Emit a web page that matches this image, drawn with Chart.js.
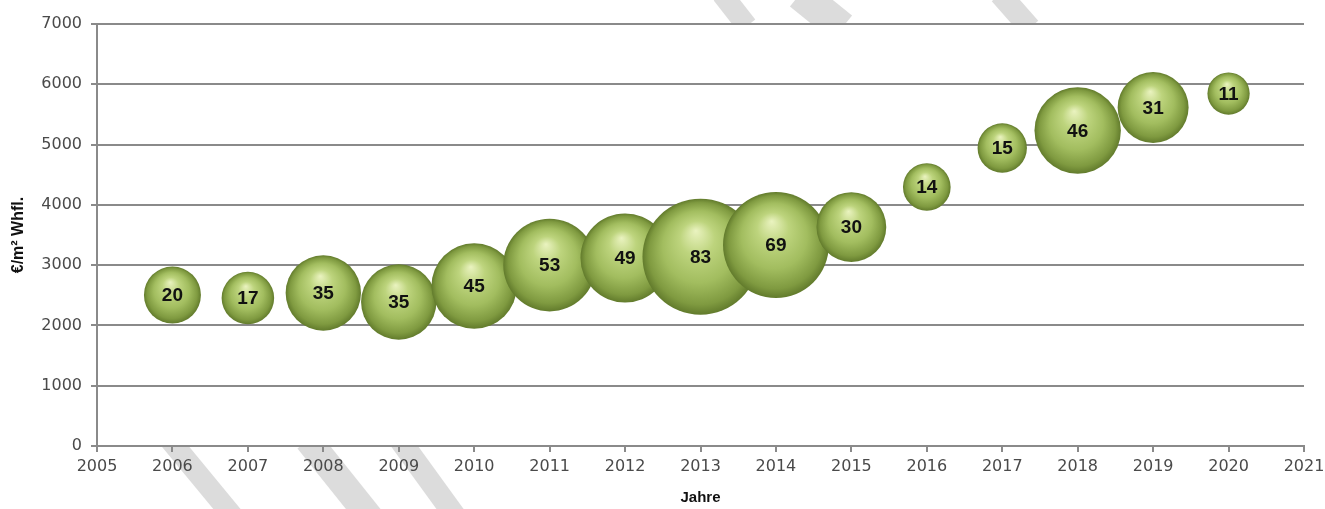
<!doctype html>
<meta charset="utf-8">
<style>
    html, body { margin: 0; padding: 0; background: #fff; }
    #wrap { width: 1325px; height: 509px; }
</style>
<script src="https://cdn.jsdelivr.net/npm/chart.js@4.4.8/dist/chart.umd.min.js"></script>

<div id="wrap"><canvas id="chart" width="1325" height="509"></canvas></div>

<script>
    // Jahr, Preis in €/m² Wohnfläche, Anzahl der Verkäufe (Blasengröße)
    const years = [2006, 2007, 2008, 2009, 2010, 2011, 2012, 2013, 2014, 2015, 2016, 2017, 2018, 2019, 2020];
    const prices = [2505, 2455, 2538, 2388, 2654, 3002, 3118, 3140, 3334, 3632, 4296, 4943, 5233, 5615, 5847];
    const counts = [20, 17, 35, 35, 45, 53, 49, 83, 69, 30, 14, 15, 46, 31, 11];

    const xMin = 2005, xMax = 2021;
    const yMin = 0, yMax = 7000, yStep = 1000;

    const gridColor = "#8a8a8a";
    const tickFont = {family: "'DejaVu Sans', sans-serif", size: 16};

    // grey diagonal watermark stripes, only visible outside the plot area
    const stripes = [
        [[170, 440], [236, 520], 21],
        [[308, 440], [372, 520], 27],
        [[400, 440], [458, 520], 22],
        [[722, -6], [747, 26], 21],
        [[800, -6], [842, 28], 32],
        [[1000, -6], [1030, 28], 22]
    ];

    const watermark = {
        id: "watermark",
        beforeDraw(chart) {
            const {ctx, chartArea: a} = chart;
            ctx.save();
            ctx.fillStyle = "#fff";
            ctx.fillRect(0, 0, chart.width, chart.height);
            ctx.strokeStyle = "#dcdcdc";
            ctx.lineCap = "butt";
            for (const [p, q, w] of stripes) {
                ctx.lineWidth = w;
                ctx.beginPath();
                ctx.moveTo(p[0], p[1]);
                ctx.lineTo(q[0], q[1]);
                ctx.stroke();
            }
            ctx.fillStyle = "#fff";
            ctx.fillRect(a.left, a.top, a.right - a.left, a.bottom - a.top);
            ctx.restore();
        }
    };

    const bubbleLabels = {
        id: "bubbleLabels",
        afterDatasetsDraw(chart) {
            const {ctx} = chart;
            const meta = chart.getDatasetMeta(0);
            ctx.save();
            ctx.font = "bold 19px 'Liberation Sans', Arial, sans-serif";
            ctx.fillStyle = "#111";
            ctx.textAlign = "center";
            ctx.textBaseline = "middle";
            meta.data.forEach((el, i) => ctx.fillText(String(counts[i]), el.x, el.y + 1));
            ctx.restore();
        }
    };

    function sphere(c) {
        if (c.type !== "data") return "#9fbc5c";
        const chart = c.chart;
        const sx = chart.scales.x, sy = chart.scales.y;
        const cx = sx.getPixelForValue(years[c.dataIndex]);
        const cy = sy.getPixelForValue(prices[c.dataIndex]);
        const r = 6.37 * Math.sqrt(counts[c.dataIndex]);
        if (!isFinite(cx) || !isFinite(cy)) return "#9fbc5c";
        const g = chart.ctx.createRadialGradient(cx - 0.08 * r, cy - 0.45 * r, 0, cx, cy, r);
        g.addColorStop(0, "#eaf3c0");
        g.addColorStop(0.3, "#bdd47d");
        g.addColorStop(0.62, "#a2bd5f");
        g.addColorStop(0.88, "#7f9a40");
        g.addColorStop(1, "#627b2c");
        return g;
    }

    new Chart(document.getElementById("chart"), {
        type: "bubble",
        data: {
            datasets: [{
                data: years.map((yr, i) => ({x: yr, y: prices[i]})),
                radius: c => 6.37 * Math.sqrt(counts[c.dataIndex] || 0),
                hoverRadius: 0,
                backgroundColor: sphere,
                hoverBackgroundColor: sphere,
                borderWidth: 0,
                hoverBorderWidth: 0
            }]
        },
        options: {
            responsive: false,
            animation: false,
            layout: {autoPadding: false, padding: {top: 24, right: 21, left: 0, bottom: 0}},
            plugins: {
                legend: {display: false},
                tooltip: {enabled: false}
            },
            scales: {
                x: {
                    type: "linear",
                    min: xMin,
                    max: xMax,
                    afterFit(s) {
                        s.height = 63;
                        s.paddingLeft = 0;
                        s.paddingRight = 0;
                    },
                    ticks: {
                        stepSize: 1,
                        font: tickFont,
                        color: "#4a4a4a",
                        padding: 5,
                        maxRotation: 0,
                        callback: v => String(v)
                    },
                    grid: {
                        drawOnChartArea: false,
                        drawTicks: true,
                        tickLength: 6,
                        color: gridColor,
                        lineWidth: 2
                    },
                    border: {color: gridColor, width: 2},
                    title: {
                        display: true,
                        text: "Jahre",
                        font: {family: "'Liberation Sans', sans-serif", size: 15, weight: "bold"},
                        color: "#111",
                        padding: {top: 0, bottom: 2}
                    }
                },
                y: {
                    min: yMin,
                    max: yMax,
                    afterFit(s) {
                        s.width = 97;
                        s.paddingTop = 0;
                        s.paddingBottom = 0;
                    },
                    ticks: {
                        stepSize: yStep,
                        font: tickFont,
                        color: "#4a4a4a",
                        padding: 9,
                        callback: v => String(v)
                    },
                    grid: {
                        color: gridColor,
                        lineWidth: 2,
                        tickLength: 6
                    },
                    border: {color: gridColor, width: 2},
                    title: {
                        display: true,
                        text: "€/m² Whfl.",
                        font: {family: "'Liberation Sans', sans-serif", size: 16, weight: "bold"},
                        color: "#111",
                        padding: {top: 9, bottom: 0}
                    }
                }
            }
        },
        plugins: [watermark, bubbleLabels]
    });
</script>
